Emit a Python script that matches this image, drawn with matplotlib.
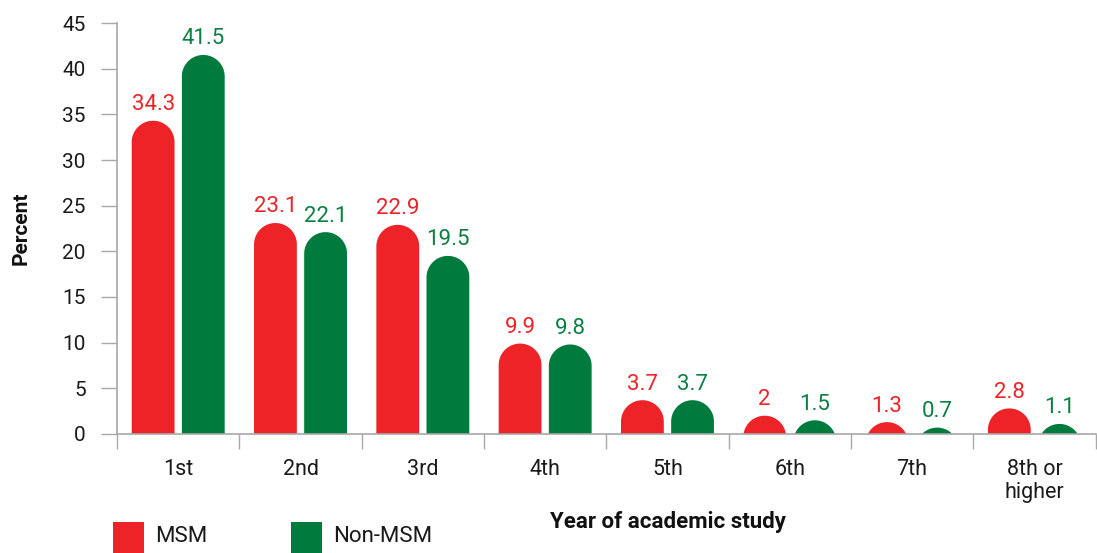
import numpy as np
import matplotlib
matplotlib.use('Agg')
import matplotlib.pyplot as plt
from matplotlib.patches import Polygon, Rectangle

# data
years = ['1st', '2nd', '3rd', '4th', '5th', '6th', '7th', '8th or\nhigher']
msm = [34.3, 23.1, 22.9, 9.9, 3.7, 2, 1.3, 2.8]
non_msm = [41.5, 22.1, 19.5, 9.8, 3.7, 1.5, 0.7, 1.1]
series_names = ['MSM', 'Non-MSM']
yticks = [0, 5, 10, 15, 20, 25, 30, 35, 40, 45]

colors = ['#ED2327', '#007A3D']
text_colors = ['#ED2327', '#0B8043']
grey = '#A8A8A8'

plt.rcParams['font.family'] = ['Liberation Sans Narrow', 'Roboto', 'DejaVu Sans']

fig = plt.figure(figsize=(10.97, 5.53), dpi=100)
ax = fig.add_axes([0.1067, 0.2152, 0.892, 0.7432])
ax.set_xlim(-0.5, len(years) - 0.5)
ax.set_ylim(0, 45)


def rounded_bar(ax, xc, h, w, color):
    # bar with a semicircular top; cap radius corrected for the axes aspect
    p0 = ax.transData.transform((0, 0))
    p1 = ax.transData.transform((1, 1))
    sx, sy = p1[0] - p0[0], p1[1] - p0[1]
    rx = w / 2
    ry = rx * sx / sy
    cy = h - ry
    t = np.linspace(np.pi, 0, 80)
    arc = np.column_stack([xc + rx * np.cos(t), cy + ry * np.sin(t)])
    base = min(0, cy)
    pts = np.vstack([[xc - rx, base], arc, [xc + rx, base]])
    ax.add_patch(Polygon(pts, closed=True, fc=color, ec='none', zorder=2))


width = 0.35
offsets = [-0.205, 0.205]
x = np.arange(len(years))
for vals, off, c, tc in zip([msm, non_msm], offsets, colors, text_colors):
    for xi, v in zip(x, vals):
        rounded_bar(ax, xi + off, v, width, c)
        ax.annotate('%g' % v, xy=(xi + off, v), xytext=(0, 4),
                    textcoords='offset points', ha='center', va='bottom',
                    color=tc, fontsize=16)

for s in ['top', 'right']:
    ax.spines[s].set_visible(False)
for s in ['left', 'bottom']:
    ax.spines[s].set_color(grey)
    ax.spines[s].set_linewidth(1.2)
    ax.spines[s].set_zorder(3)

ax.set_yticks(yticks)
ax.tick_params(axis='y', direction='out', length=11.5, width=1, color=grey,
               pad=11, labelsize=15, labelcolor='#1a1a1a')
ax.set_xticks(x)
ax.set_xticklabels(years)
ax.set_xticks(np.arange(-0.5, len(years), 1), minor=True)
ax.tick_params(axis='x', which='major', length=0, pad=18, labelsize=15.5,
               labelcolor='#1a1a1a')
ax.tick_params(axis='x', which='minor', direction='out', length=11, width=1,
               color=grey)
for lab in ax.get_xticklabels():
    lab.set_linespacing(1.15)

fig.text(0.019, 0.588, 'Percent', rotation=90, ha='center', va='center',
         fontsize=15, fontweight='bold', color='#111111')
fig.text(0.609, 0.056, 'Year of academic study', ha='center', va='center',
         fontsize=16, fontweight='bold', color='#111111')

# legend
leg_x = [113, 291]
for lx, name, c in zip(leg_x, series_names, colors):
    fig.patches.append(Rectangle((lx / 1097, 1 - 553 / 553), 31 / 1097, 31 / 553,
                                 transform=fig.transFigure, fc=c, ec='none'))
    fig.text((lx + 42) / 1097, 1 - 537 / 553, name, ha='left', va='center',
             fontsize=16, color='#1a1a1a')

fig.savefig('out.png', dpi=100)
